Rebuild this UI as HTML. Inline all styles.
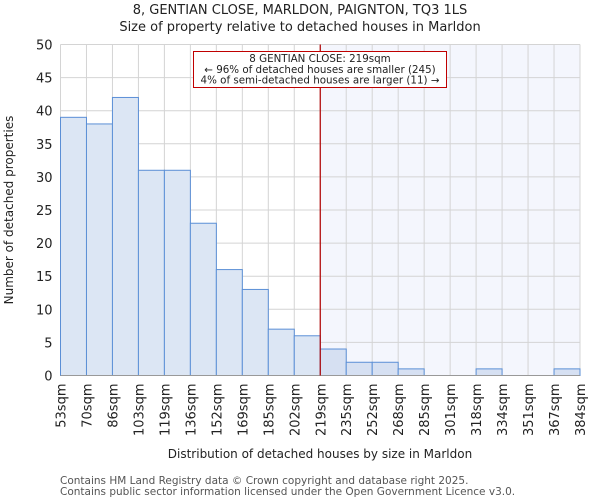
<!DOCTYPE html>
<html><head><meta charset="utf-8"><style>
body{margin:0;background:#fff;font-family:"DejaVu Sans","Liberation Sans",sans-serif;}
svg text{font-family:"DejaVu Sans","Liberation Sans",sans-serif;fill:#222;}
</style></head><body>
<svg id="chart" width="600" height="500" xmlns="http://www.w3.org/2000/svg">
<text x="300" y="14" text-anchor="middle" font-size="13">8, GENTIAN CLOSE, MARLDON, PAIGNTON, TQ3 1LS</text>
<text x="300" y="31" text-anchor="middle" font-size="13">Size of property relative to detached houses in Marldon</text>
<g id="grid"></g><g id="bars"></g><g id="axes"></g>
<text x="320" y="458" text-anchor="middle" font-size="12">Distribution of detached houses by size in Marldon</text>
<text transform="translate(13,210) rotate(-90)" text-anchor="middle" font-size="12">Number of detached properties</text>
<text x="60" y="484" font-size="10.5" style="fill:#555">Contains HM Land Registry data © Crown copyright and database right 2025.</text>
<text x="60" y="495" font-size="10.5" style="fill:#555">Contains public sector information licensed under the Open Government Licence v3.0.</text>
</svg>
<script>
const labels=["53sqm","70sqm","86sqm","103sqm","119sqm","136sqm","152sqm","169sqm","185sqm","202sqm","219sqm","235sqm","252sqm","268sqm","285sqm","301sqm","318sqm","334sqm","351sqm","367sqm","384sqm"];
const counts=[39,38,42,31,31,23,16,13,7,6,4,2,2,1,0,0,1,0,0,1];
const yTicks=[0,5,10,15,20,25,30,35,40,45,50];
const highlightIndex=10;
const NS="http://www.w3.org/2000/svg";
const L=60.5,R=580,T=44.5,B=375.5,yMax=50;
const bw=(R-L)/counts.length;
const xs=i=>L+i*bw, ys=v=>B-(v/yMax)*(B-T);
function mk(t,a,p){const e=document.createElementNS(NS,t);for(const k in a)e.setAttribute(k,a[k]);p.appendChild(e);return e;}
const grid=document.getElementById('grid'),bars=document.getElementById('bars'),axes=document.getElementById('axes');
const hl=mk('rect',{x:xs(highlightIndex),y:T,width:R-xs(highlightIndex),height:B-T,fill:'#f4f6fd'},grid);


yTicks.forEach(v=>{
 mk('line',{x1:L,x2:R,y1:ys(v),y2:ys(v),stroke:'#d4d4d4'},grid);
 const t=mk('text',{x:L-8,y:ys(v)+5,'text-anchor':'end','font-size':13},axes);t.textContent=v;
 
 
});
labels.forEach((s,i)=>{
 mk('line',{x1:xs(i),x2:xs(i),y1:T,y2:B,stroke:'#d4d4d4'},grid);
 const t=mk('text',{transform:`translate(${xs(i)+5},${B+8}) rotate(-90)`,'text-anchor':'end','font-size':13},axes);t.textContent=s;
 
 
});
counts.forEach((v,i)=>{
 if(v<=0)return;
 const r=mk('rect',{x:xs(i),y:ys(v),width:bw,height:B-ys(v),fill:i>=highlightIndex?'#d6e0f2':'#dce6f4',stroke:'#5b8fd6','stroke-width':1},bars);
 
 
});
mk('line',{x1:L,x2:R,y1:B,y2:B,stroke:'#999'},axes);
const vl=mk('line',{x1:xs(highlightIndex),x2:xs(highlightIndex),y1:T,y2:B,stroke:'#b00000','stroke-width':1.2},axes);


const g=mk('g',{},axes);


mk('rect',{x:193.5,y:51.5,width:253,height:36,fill:'#fff',stroke:'#c00000','stroke-width':1},g);
["8 GENTIAN CLOSE: 219sqm","← 96% of detached houses are smaller (245)","4% of semi-detached houses are larger (11) →"].forEach((s,i)=>{
 const t=mk('text',{x:320,y:62+i*10.8,'text-anchor':'middle','font-size':10.3},g);t.textContent=s;
});
</script>
</body></html>
